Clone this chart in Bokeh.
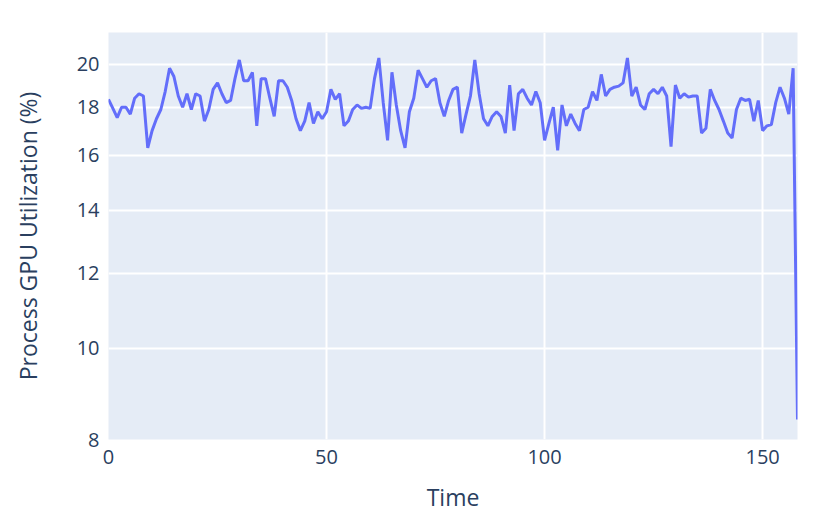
from bokeh.plotting import figure
from bokeh.models import Range1d, FixedTicker, PrintfTickFormatter, ColumnDataSource
from bokeh.embed import file_html
from bokeh.resources import INLINE

# ---- data ----
time = list(range(159))
gpu_util = [
    18.35, 17.95, 17.55, 18.0, 18.0, 17.7, 18.4, 18.6, 18.5, 16.3,
    17.0, 17.5, 17.9, 18.7, 19.8, 19.4, 18.5, 18.0, 18.6, 17.9,
    18.6, 18.5, 17.4, 17.9, 18.8, 19.1, 18.6, 18.2, 18.3, 19.3,
    20.2, 19.2, 19.2, 19.6, 17.2, 19.3, 19.3, 18.4, 17.6, 19.2,
    19.2, 18.9, 18.3, 17.5, 17.0, 17.4, 18.2, 17.3, 17.8, 17.5,
    17.8, 18.8, 18.35, 18.6, 17.2, 17.4, 17.9, 18.1, 17.95, 18.0,
    17.95, 19.3, 20.3, 18.2, 16.6, 19.6, 18.1, 17.0, 16.3, 17.8,
    18.4, 19.7, 19.3, 18.9, 19.2, 19.3, 18.2, 17.6, 18.3, 18.8,
    18.9, 16.9, 17.7, 18.5, 20.2, 18.6, 17.5, 17.2, 17.6, 17.8,
    17.6, 16.9, 19.0, 17.0, 18.6, 18.8, 18.4, 18.1, 18.7, 18.2,
    16.6, 17.3, 18.0, 16.2, 18.1, 17.2, 17.7, 17.3, 17.0, 17.9,
    18.0, 18.7, 18.3, 19.5, 18.5, 18.8, 18.9, 18.95, 19.1, 20.3,
    18.5, 18.9, 18.1, 17.9, 18.6, 18.8, 18.6, 18.9, 18.5, 16.35,
    19.0, 18.4, 18.6, 18.45, 18.5, 18.5, 16.9, 17.1, 18.8, 18.3,
    17.9, 17.4, 16.9, 16.7, 17.9, 18.4, 18.3, 18.35, 17.4, 18.3,
    17.0, 17.2, 17.25, 18.2, 18.9, 18.4, 17.7, 19.8, 8.4,
]
x_ticks = [0, 50, 100, 150]
y_ticks = [8, 10, 12, 14, 16, 18, 20]

source = ColumnDataSource(data=dict(time=time, gpu_util=gpu_util))

TEXT = "#2a3f5f"
FONT = "Open Sans"

p = figure(
    width=814, height=515,
    y_axis_type="log",
    x_range=Range1d(0, 158), y_range=Range1d(8, 21.6),
    output_backend="svg", toolbar_location=None,
    min_border_left=108, min_border_right=17,
    min_border_top=32, min_border_bottom=73,
)
p.background_fill_color = "#E5ECF6"
p.border_fill_color = "white"
p.outline_line_color = None

p.line("time", "gpu_util", source=source, line_color="#636EFA", line_width=3)

p.xaxis.ticker = FixedTicker(ticks=x_ticks)
p.yaxis.ticker = FixedTicker(ticks=y_ticks)
p.yaxis.formatter = PrintfTickFormatter(format="%d")
p.xgrid.ticker = FixedTicker(ticks=x_ticks)
p.ygrid.ticker = FixedTicker(ticks=y_ticks)
p.xgrid.grid_line_color = "white"
p.ygrid.grid_line_color = "white"
p.xgrid.grid_line_width = 2
p.ygrid.grid_line_width = 2

for ax in (p.xaxis, p.yaxis):
    ax.axis_line_color = None
    ax.major_tick_line_color = None
    ax.minor_tick_line_color = None
    ax.major_label_text_font = FONT
    ax.major_label_text_font_size = "20px"
    ax.major_label_text_color = TEXT
    ax.axis_label_text_font = FONT
    ax.axis_label_text_font_size = "23px"
    ax.axis_label_text_color = TEXT
    ax.axis_label_text_font_style = "normal"

p.xaxis.axis_label = "Time"
p.yaxis.axis_label = "Process GPU Utilization (%)"
p.xaxis.major_label_standoff = 4
p.xaxis.axis_label_standoff = 14
p.yaxis.major_label_standoff = 3
p.yaxis.axis_label_standoff = 30

open("out.html", "w").write(file_html(p, INLINE))
